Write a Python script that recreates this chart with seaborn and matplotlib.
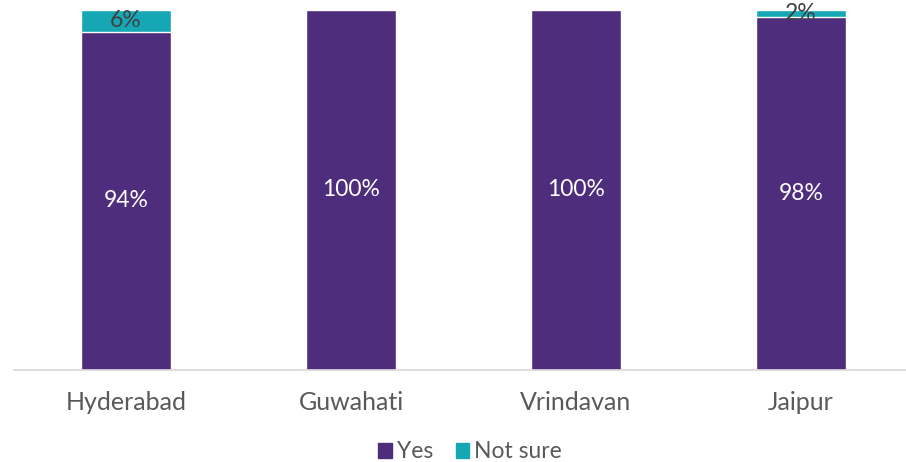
import matplotlib
matplotlib.use("Agg")
import matplotlib.pyplot as plt
import seaborn as sns
import pandas as pd
from matplotlib.patches import Patch

cities = ["Hyderabad", "Guwahati", "Vrindavan", "Jaipur"]
yes = [94, 100, 100, 98]
not_sure = [6, 0, 0, 2]

sns.set_theme(style="white")
plt.rcParams["font.family"] = ["Lato", "DejaVu Sans"]

purple = "#4e2e7c"
teal = "#16a7b5"

fig = plt.figure(figsize=(9.06, 4.62), dpi=100)
ax = fig.add_axes([13.5 / 906, 92 / 462, (906 - 13.5) / 906, 360 / 462])

df = pd.DataFrame({"city": cities, "yes": yes, "not_sure": not_sure})
df["total"] = df["yes"] + df["not_sure"]

width = 0.404
sns.barplot(data=df, x="city", y="total", color=teal, width=width, ax=ax, saturation=1)
sns.barplot(data=df, x="city", y="yes", color=purple, width=width, ax=ax, saturation=1)

for i, (y, n) in enumerate(zip(yes, not_sure)):
    ax.text(i, y / 2, f"{y}%", ha="center", va="center", color="white", fontsize=16.5)
    if n > 0:
        ax.text(i, y + n / 2, f"{n}%", ha="center", va="center", color="#404040", fontsize=16.5)

ax.set_xlim(-0.5, 3.5 - 7.5 / 225)
ax.set_ylim(0, 100)
ax.set_xlabel("")
ax.set_ylabel("")
ax.set_yticks([])
for s in ["top", "right", "left"]:
    ax.spines[s].set_visible(False)
ax.spines["bottom"].set_color("#d9d9d9")
ax.spines["bottom"].set_linewidth(1.2)
ax.tick_params(axis="x", length=0, pad=15, labelsize=18, labelcolor="#595959")

handles = [Patch(color=purple, label="Yes"), Patch(color=teal, label="Not sure")]
fig.legend(handles=handles, loc="center", bbox_to_anchor=(470 / 906, 1 - 452 / 462), ncol=2,
           frameon=False, fontsize=16.5, labelcolor="#595959", handlelength=0.6, handleheight=0.6,
           handletextpad=0.2, columnspacing=1.0)

fig.savefig("out.png", dpi=100)
